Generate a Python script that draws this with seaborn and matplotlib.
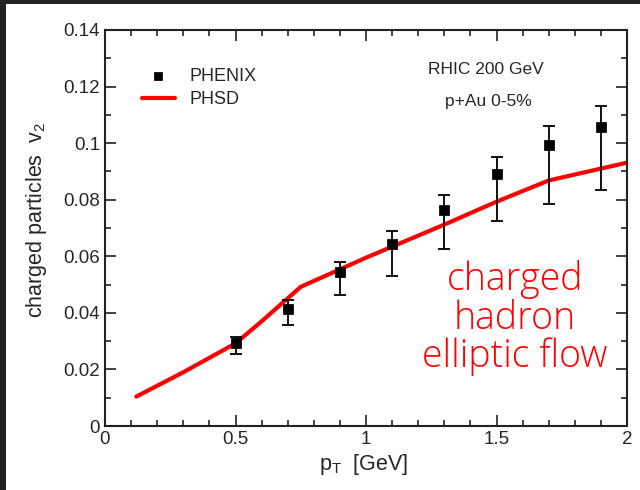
import numpy as np
import pandas as pd
import matplotlib
matplotlib.use("Agg")
import matplotlib.pyplot as plt
from matplotlib.patches import Rectangle
from matplotlib.ticker import MultipleLocator
import seaborn as sns

# PHENIX data points (p+Au 0-5%)
phenix_pt = [0.5, 0.7, 0.9, 1.1, 1.3, 1.5, 1.7, 1.9]
phenix_v2 = [0.0293, 0.0415, 0.0543, 0.0645, 0.0762, 0.0890, 0.0992, 0.1058]
phenix_hi = [0.0314, 0.0446, 0.0580, 0.0690, 0.0816, 0.0952, 0.1061, 0.1133]
phenix_lo = [0.0255, 0.0357, 0.0463, 0.0530, 0.0627, 0.0725, 0.0785, 0.0836]

# PHSD curve
phsd_pt = [0.12, 0.3, 0.5, 0.6, 0.75, 1.0, 1.3, 1.5, 1.7, 2.0]
phsd_v2 = [0.0104, 0.0190, 0.0292, 0.0370, 0.0492, 0.0595, 0.0712, 0.0793, 0.0868, 0.0931]

sns.set_style("ticks")
plt.rcParams['font.family'] = ['Liberation Sans', 'DejaVu Sans']

fig = plt.figure(figsize=(6.4, 4.9), dpi=100)
fig.patch.set_facecolor('#222222')
fig.add_artist(Rectangle((6/640, 0), 1, 1 - 4/490, transform=fig.transFigure,
                         facecolor='white', edgecolor='none', zorder=-1))
ax = fig.add_axes([105/640, 1 - 426/490, 522/640, 396/490])

df_phsd = pd.DataFrame({'pt': phsd_pt, 'v2': phsd_v2})
sns.lineplot(data=df_phsd, x='pt', y='v2', color='red', lw=3, ax=ax, label='PHSD', zorder=2)

v2 = np.array(phenix_v2)
yerr = [v2 - np.array(phenix_lo), np.array(phenix_hi) - v2]
ax.errorbar(phenix_pt, v2, yerr=yerr, fmt='none', ecolor='black', elinewidth=1.3,
            capsize=4.5, capthick=1.3, zorder=3)
sns.scatterplot(x=phenix_pt, y=phenix_v2, marker='s', color='black', s=45,
                edgecolor='black', ax=ax, label='PHENIX', zorder=4)

ax.set_xlim(0, 2)
ax.set_ylim(0, 0.14)
ax.xaxis.set_minor_locator(MultipleLocator(0.1))
ax.yaxis.set_minor_locator(MultipleLocator(0.01))
ax.set_xticks([0, 0.5, 1, 1.5, 2], ['0', '0.5', '1', '1.5', '2'])
ax.set_yticks([0, 0.02, 0.04, 0.06, 0.08, 0.1, 0.12, 0.14],
              ['0', '0.02', '0.04', '0.06', '0.08', '0.1', '0.12', '0.14'])
ax.tick_params(which='both', direction='in', top=True, right=True, labelsize=13.5,
               color='#222222', width=1.2)
ax.tick_params(which='major', length=8)
ax.tick_params(which='minor', length=4)
for sp in ax.spines.values():
    sp.set_linewidth(1.5)
    sp.set_color('#222222')

ax.set_xlabel(r'p$_\mathregular{T}$  [GeV]', fontsize=15.5)
ax.set_ylabel(r'charged particles  v$_\mathregular{2}$', fontsize=15.5)
ax.xaxis.set_label_coords(0.496, -0.066)
ax.yaxis.set_label_coords(-0.108, 0.52)

h, l = ax.get_legend_handles_labels()
order = [l.index('PHENIX'), l.index('PHSD')]
ax.legend([h[i] for i in order], [l[i] for i in order], loc='upper left',
          frameon=False, fontsize=13, bbox_to_anchor=(0.04, 0.945),
          handlelength=1.8, labelspacing=0.35, markerscale=0.85)

ax.text(0.73, 0.90, 'RHIC 200 GeV', transform=ax.transAxes, ha='center',
        va='center', fontsize=12.5)
ax.text(0.735, 0.82, 'p+Au 0-5%', transform=ax.transAxes, ha='center',
        va='center', fontsize=12.5)
ax.text(0.785, 0.272, 'charged\nhadron\nelliptic flow', transform=ax.transAxes,
        ha='center', va='center', fontsize=27, color='red', linespacing=1.0,
        family=['Open Sans', 'DejaVu Sans'], fontweight=300)

fig.savefig('out.png', dpi=100, facecolor=fig.get_facecolor())
